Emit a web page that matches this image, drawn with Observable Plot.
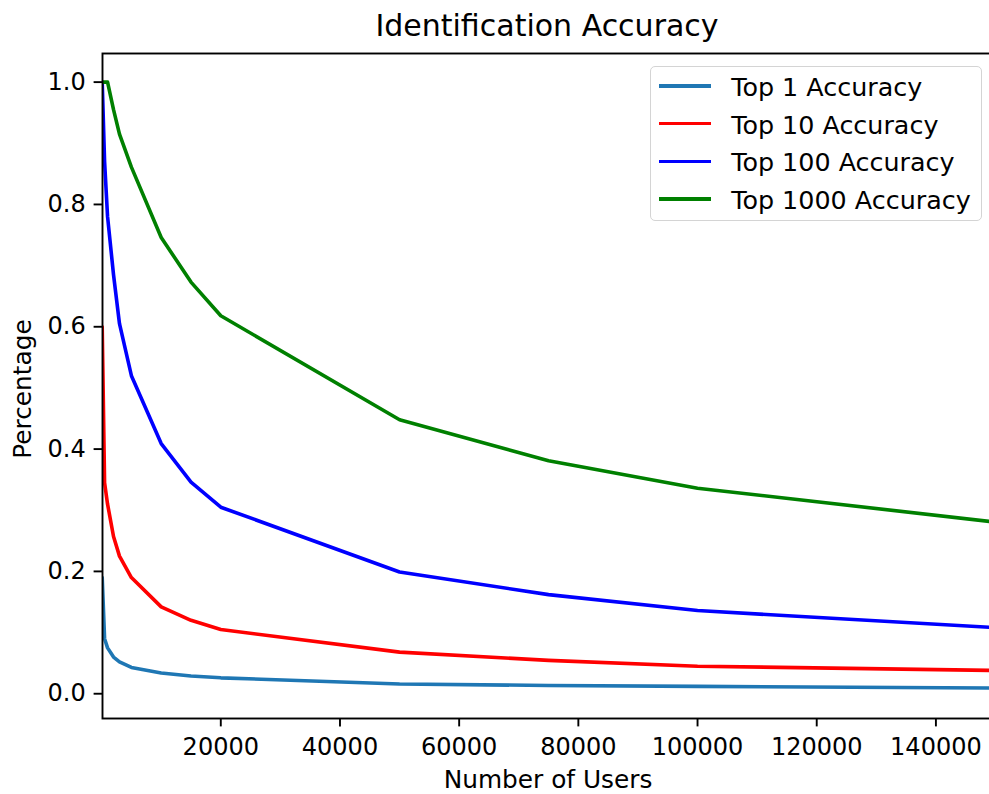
<!DOCTYPE html>
<html>
<head>
<meta charset="utf-8">
<script src="https://cdn.jsdelivr.net/npm/d3@7"></script>
<script src="https://cdn.jsdelivr.net/npm/@observablehq/plot@0.6"></script>
<style>
  html, body { margin: 0; padding: 0; background: #fff; overflow: hidden; width: 989px; height: 794px; }
  #wrap { position: relative; width: 989px; height: 794px; overflow: hidden; font-family: "DejaVu Sans", sans-serif; color: #000; }
  #wrap svg.chart { position: absolute; left: 0; top: 0; max-width: none !important; }
  .title { position: absolute; left: 547px; top: 8.2px; transform: translateX(-50%); font-size: 30px; line-height: 35px; white-space: nowrap; }
  .xlabel { position: absolute; left: 548px; top: 765.2px; transform: translateX(-50%); font-size: 24.8px; line-height: 29px; white-space: nowrap; }
  .ylabel { position: absolute; left: 21.5px; top: 389px; transform: translate(-50%, -50%) rotate(-90deg); font-size: 24.8px; line-height: 29px; white-space: nowrap; }
  .legend { position: absolute; left: 650px; top: 66px; width: 330px; height: 153px; border: 1.6px solid #d4d4d4; border-radius: 5px; background: rgba(255,255,255,0.8); }
  .legend .row { display: flex; align-items: center; height: 37.8px; }
  .legend .sw { width: 52px; height: 3.6px; margin-left: 7.5px; margin-right: 20.7px; flex: none; }
  .legend .lab { font-size: 25.4px; line-height: 30px; white-space: nowrap; position: relative; top: 1px; }
</style>
</head>
<body>
<div id="wrap"></div>
<script>
// ---- data ----
const users = [100, 500, 1000, 2000, 3000, 5000, 10000, 15000, 20000, 50000, 75000, 100000, 150000];
const top1    = [0.19, 0.09, 0.075, 0.060, 0.052, 0.043, 0.034, 0.029, 0.026, 0.016, 0.0135, 0.012, 0.0092];
const top10   = [0.60, 0.345, 0.31, 0.257, 0.225, 0.19, 0.142, 0.12, 0.105, 0.068, 0.0545, 0.045, 0.038];
const top100  = [1.00, 0.87, 0.78, 0.685, 0.605, 0.52, 0.409, 0.346, 0.305, 0.199, 0.162, 0.136, 0.108];
const top1000 = [1.00, 1.00, 1.00, 0.955, 0.915, 0.861, 0.746, 0.673, 0.618, 0.448, 0.381, 0.336, 0.2807];
const seriesNames  = ["Top 1 Accuracy", "Top 10 Accuracy", "Top 100 Accuracy", "Top 1000 Accuracy"];
const seriesColors = ["#1f77b4", "#ff0000", "#0000ff", "#008000"];
const xTicks = [20000, 40000, 60000, 80000, 100000, 120000, 140000];
const yTicks = [0.0, 0.2, 0.4, 0.6, 0.8, 1.0];
const titleText = "Identification Accuracy";
const xLabel = "Number of Users";
const yLabel = "Percentage";

// ---- build table ----
const allSeries = [top1, top10, top100, top1000];
const rows = [];
allSeries.forEach((vals, i) => vals.forEach((v, j) => rows.push({series: seriesNames[i], users: users[j], acc: v})));

const wrap = document.getElementById("wrap");

const chart = Plot.plot({
  width: 995,
  height: 794,
  marginLeft: 102,
  marginRight: 0,
  marginTop: 53,
  marginBottom: 76,
  className: "chart",
  style: {fontFamily: "DejaVu Sans", fontSize: "24px", background: "transparent", color: "#000"},
  x: {domain: [150, 150000]},
  y: {domain: [-0.0405, 1.0468]},
  color: {domain: seriesNames, range: seriesColors},
  marks: [
    Plot.line(rows, {x: "users", y: "acc", z: "series", stroke: "series", strokeWidth: 3.6, clip: true}),
    Plot.frame({stroke: "#000", strokeWidth: 1.9}),
    Plot.axisX({ticks: xTicks, tickSize: 8.4, tickPadding: 11.4, tickFormat: d => String(d), fontSize: 24, label: null, strokeWidth: 1.9}),
    Plot.axisY({ticks: yTicks, tickSize: 8.4, tickPadding: 8.4, tickFormat: d3.format(".1f"), fontSize: 24, label: null, strokeWidth: 1.9})
  ]
});
chart.classList.add("chart");
wrap.appendChild(chart);

const t = document.createElement("div"); t.className = "title"; t.textContent = titleText; wrap.appendChild(t);
const xl = document.createElement("div"); xl.className = "xlabel"; xl.textContent = xLabel; wrap.appendChild(xl);
const yl = document.createElement("div"); yl.className = "ylabel"; yl.textContent = yLabel; wrap.appendChild(yl);

const lg = document.createElement("div"); lg.className = "legend";
seriesNames.forEach((name, i) => {
  const r = document.createElement("div"); r.className = "row";
  const sw = document.createElement("div"); sw.className = "sw"; sw.style.background = seriesColors[i];
  const lab = document.createElement("div"); lab.className = "lab"; lab.textContent = name;
  r.appendChild(sw); r.appendChild(lab); lg.appendChild(r);
});
wrap.appendChild(lg);
</script>
</body>
</html>
